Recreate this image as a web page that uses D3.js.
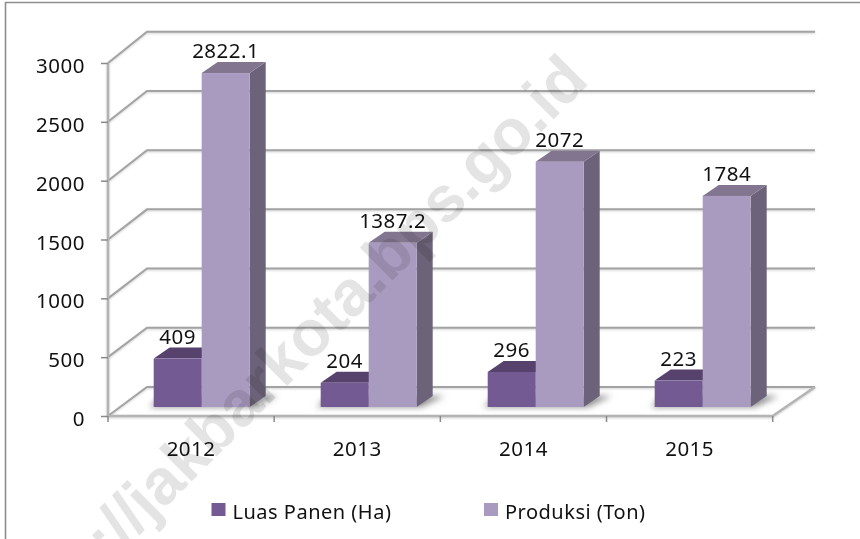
<!DOCTYPE html>
<html>
<head>
<meta charset="utf-8">
<script src="https://cdn.jsdelivr.net/npm/d3@7"></script>
<style>
  html, body { margin: 0; padding: 0; background: #fff; }
  svg { display: block; }
  text { font-family: "Noto Sans", sans-serif; fill: #111; letter-spacing: 0.5px; }
  .wmark { font-family: "Liberation Sans", sans-serif; font-weight: bold; fill: #e4e4e4; mix-blend-mode: multiply; letter-spacing: 0; }
</style>
</head>
<body>
<div id="chart"></div>
<script>
var years = ["2012", "2013", "2014", "2015"];
var luasPanen = [409, 204, 296, 223];
var produksi = [2822.1, 1387.2, 2072, 1784];
var produksiLabels = ["2822.1", "1387.2", "2072", "1784"];
var yTicks = [0, 500, 1000, 1500, 2000, 2500, 3000];
var seriesNames = ["Luas Panen (Ha)", "Produksi (Ton)"];
var watermark = "http://jakbarkota.bps.go.id";

var width = 860, height = 539;
var svg = d3.select("#chart").append("svg")
  .attr("width", width)
  .attr("height", height);

var defs = svg.append("defs");
defs.append("filter").attr("id", "blur")
  .attr("x", "-30%").attr("y", "-60%").attr("width", "160%").attr("height", "220%")
  .append("feGaussianBlur").attr("stdDeviation", 3);

// frame, only top and left show up in the crop
svg.append("path")
  .attr("d", "M5.5,539V2.5H860")
  .attr("fill", "none")
  .attr("stroke", "#8e8e8e")
  .attr("stroke-width", 1.6);

// front plane
var x = d3.scaleBand().domain(years).range([108, 772.7]);
var y = d3.scaleLinear().domain([0, 3000]).range([416, 63]);
// back wall
var xBack = d3.scaleLinear().domain([0, 1]).range([147, 815]);
var yBack = d3.scaleLinear().domain([0, 3000]).range([387, 31.7]);
// plane the bars stand on
var xBar = d3.scaleBand().domain(years).range([118.2, 786.2]);
var yBar = d3.scaleLinear().domain([0, 3000]).range([407, 52]);
var barW = 48, depthX = 16, depthY = 11;
var x0 = function (d) { return xBar(d) + xBar.step() / 2 - barW; };

var grid = svg.append("g")
  .attr("fill", "none")
  .attr("stroke", "#a3a3a3")
  .attr("stroke-width", 2)
  .style("filter", "drop-shadow(0 1.5px 1px rgba(0,0,0,.18))");

grid.selectAll("path.gridline")
  .data(yTicks)
  .enter().append("path")
  .attr("class", "gridline")
  .attr("d", function (d) {
    return "M" + x.range()[0] + "," + y(d) + "L" + xBack(0) + "," + yBack(d) + "H" + xBack(1);
  });

// floor front edge and right side
grid.append("path")
  .attr("stroke", "#b4b4b4")
  .attr("stroke-width", 2.5)
  .attr("d", "M" + x.range()[0] + "," + y(0) + "H" + x.range()[1] + "L" + xBack(1) + "," + yBack(0));
// wall front edge
grid.append("path")
  .attr("stroke", "#b4b4b4")
  .attr("stroke-width", 2.5)
  .attr("d", "M" + x.range()[0] + "," + y(0) + "V" + y(3000));

// boundary ticks under the floor
svg.append("g").selectAll("line")
  .data(d3.range(years.length + 1))
  .enter().append("line")
  .attr("x1", function (d) { return x.range()[0] + d * x.step(); })
  .attr("x2", function (d) { return x.range()[0] + d * x.step(); })
  .attr("y1", y(0))
  .attr("y2", y(0) + 6)
  .attr("stroke", "#8a8a8a")
  .attr("stroke-width", 1.5);

// left axis
var yAxis = svg.append("g")
  .attr("transform", "translate(" + x.range()[0] + ",0)")
  .call(d3.axisLeft(y).tickValues(yTicks).tickSize(7).tickPadding(16).tickFormat(d3.format("d")));
yAxis.select(".domain").remove();
yAxis.selectAll("line").attr("stroke", "#8a8a8a").attr("stroke-width", 1.5);
yAxis.selectAll("text").style("font-size", "20.5px").attr("fill", "#111").attr("dy", "0.47em");

// bottom labels
var xAxis = svg.append("g")
  .attr("transform", "translate(0," + y(0) + ")")
  .call(d3.axisBottom(x).tickSize(0).tickPadding(25));
xAxis.select(".domain").remove();
xAxis.selectAll("text").style("font-size", "20.5px").attr("fill", "#111");

// soft shadow on the floor
svg.append("g").selectAll("path")
  .data(years)
  .enter().append("path")
  .attr("filter", "url(#blur)")
  .attr("fill", "#8a8a8a")
  .attr("d", function (d) {
    var l = x0(d);
    return "M" + (l - 4) + "," + yBar(0) + "L" + (l + 8) + "," + (yBar(0) - depthY)
      + "H" + (l + 2 * barW + depthX + 12) + "L" + (l + 2 * barW + 4) + "," + yBar(0) + "Z";
  });

function drawBar(g, left, top, front, roof, side) {
  var base = yBar(0);
  g.append("path").attr("fill", side)
    .attr("d", "M" + (left + barW) + "," + top + "l" + depthX + "," + (-depthY)
      + "V" + (base - depthY) + "l" + (-depthX) + "," + depthY + "Z");
  g.append("path").attr("fill", roof)
    .attr("d", "M" + left + "," + top + "l" + depthX + "," + (-depthY) + "h" + barW
      + "l" + (-depthX) + "," + depthY + "Z");
  g.append("rect").attr("fill", front)
    .attr("x", left).attr("y", top)
    .attr("width", barW).attr("height", base - top);
}

var bars = svg.append("g");
years.forEach(function (yr, i) {
  var g = bars.append("g");
  drawBar(g, x0(yr), yBar(luasPanen[i]), "#735a92", "#57426e", "#4f3d66");
  drawBar(g, x0(yr) + barW, yBar(produksi[i]), "#a99abf", "#82758f", "#6c6279");
});

// value labels
var labels = svg.append("g").attr("text-anchor", "middle").style("font-size", "20.5px");
years.forEach(function (yr, i) {
  labels.append("text")
    .attr("x", x0(yr) + barW / 2)
    .attr("y", yBar(luasPanen[i]) - 15)
    .text(luasPanen[i]);
  labels.append("text")
    .attr("x", x0(yr) + barW * 1.5)
    .attr("y", yBar(produksi[i]) - 15)
    .text(produksiLabels[i]);
});

// legend
var legendX = d3.scaleOrdinal().domain(seriesNames).range([211.5, 484]);
var legendFill = d3.scaleOrdinal().domain(seriesNames).range(["#735a92", "#a99abf"]);
var legend = svg.append("g").selectAll("g")
  .data(seriesNames)
  .enter().append("g")
  .attr("transform", function (d) { return "translate(" + legendX(d) + ",503)"; });
legend.append("rect")
  .attr("width", 14).attr("height", 13)
  .attr("fill", function (d) { return legendFill(d); });
legend.append("text")
  .attr("x", 21)
  .attr("y", 16)
  .style("font-size", "20px")
  .text(function (d) { return d; });

// watermark goes over everything
svg.append("text")
  .attr("class", "wmark")
  .attr("transform", "translate(25,648) rotate(-45)")
  .style("font-size", "64px")
  .text(watermark);
</script>
</body>
</html>
